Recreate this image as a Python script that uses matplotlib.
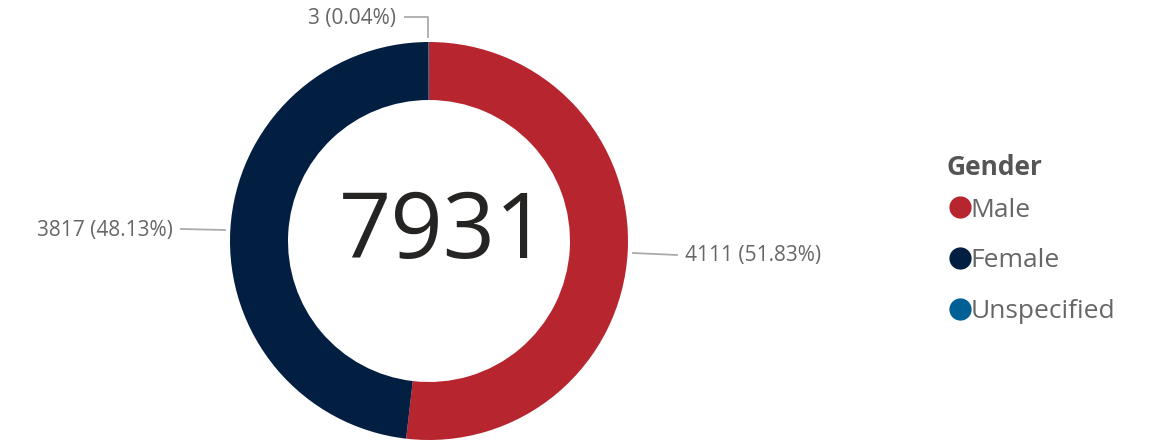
import matplotlib.pyplot as plt
from matplotlib.lines import Line2D

# data
genders = ["Male", "Female", "Unspecified"]
counts = [4111, 3817, 3]
colors = ["#B7252F", "#021E41", "#005F94"]
total = sum(counts)

plt.rcParams['font.family'] = ['Open Sans', 'DejaVu Sans']
grey = "#666666"

fig = plt.figure(figsize=(11.67, 4.43), dpi=100)
ax = fig.add_axes([0, 0, 1, 1])

cx, cy, r = 429, 443 - 241, 199
wedges, _ = ax.pie(counts, colors=colors, startangle=90, counterclock=False,
                   center=(cx, cy), radius=r,
                   wedgeprops=dict(width=58, linewidth=0))
ax.set_xlim(0, 1167)
ax.set_ylim(0, 443)
ax.set_aspect('equal')
ax.axis('off')

# centre total
ax.text(cx + 15, cy + 7, str(total), fontsize=66, color="#252423",
        ha='center', va='center')

def lab(i):
    return f"{counts[i]} ({counts[i] / total * 100:.2f}%)"

lc = "#AAAAAA"
# Male label (right)
ax.plot([633, 677], [443 - 253, 443 - 255], color=lc, lw=1.3)
ax.text(685, 443 - 255, lab(0), fontsize=15, color=grey, ha='left', va='center')
# Female label (left)
ax.plot([181, 225], [443 - 229, 443 - 230], color=lc, lw=1.3)
ax.text(173, 443 - 230, lab(1), fontsize=15, color=grey, ha='right', va='center')
# Unspecified label (top)
ax.plot([405, 428, 428], [443 - 17, 443 - 17, 443 - 37], color=lc, lw=1.3)
ax.text(396, 443 - 18, lab(2), fontsize=15, color=grey, ha='right', va='center')

# legend
ax.text(947, 443 - 167, "Gender", fontsize=19, fontweight='bold',
        color="#555555", ha='left', va='center')
handles = [Line2D([], [], marker='o', linestyle='', markersize=15,
                  markerfacecolor=c, markeredgecolor=c) for c in colors]
leg = ax.legend(handles, genders, loc='upper left',
                bbox_to_anchor=(935 / 1167, 1 - 187 / 443), frameon=False,
                fontsize=19, labelcolor=grey, handletextpad=-0.15,
                handlelength=1.1, labelspacing=0.97, borderaxespad=0)

fig.savefig("out.png", dpi=100)
